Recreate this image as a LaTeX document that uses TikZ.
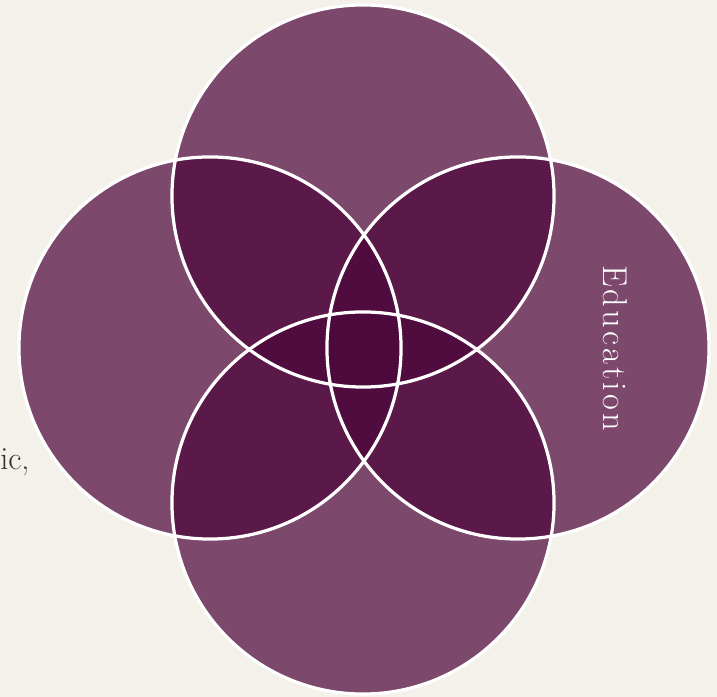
\documentclass[tikz,border=0pt]{standalone}
\usepackage{fontspec}
\usepackage{xcolor}
\usepackage{tikz}

\newfontfamily\edufont{Latin Modern Roman}[LetterSpace=9]
\definecolor{paper}{HTML}{F4F0EA}
\definecolor{plum}{RGB}{78,8,60}
\definecolor{inkgray}{HTML}{333333}

\begin{document}
\begin{tikzpicture}[x=0.025cm, y=0.025cm,
  petal/.style={fill=plum, fill opacity=0.72},
  rim/.style={draw=white, line width=2.3pt}]
% Paper
\fill[paper] (0,0) rectangle (717,697);
\useasboundingbox (0,0) rectangle (717,697);

% Circle centres
\coordinate (top) at (363,501);
\coordinate (left) at (210,349);
\coordinate (right) at (518,349);
\coordinate (bottom) at (363,194);

% Translucent discs, then white rims on top
\foreach \c in {top,left,right,bottom}
  \fill[petal] (\c) circle (4.775cm);
\foreach \c in {top,left,right,bottom}
  \draw[rim] (\c) circle (4.775cm);

% Labels
\node[white, rotate=-90, anchor=base, inner sep=0pt,
  font=\fontsize{24.5}{26}\edufont]
  (edu) at (603,349) {Education};
\node[inkgray, anchor=base west, inner sep=0pt,
  font=\fontsize{23}{25}\selectfont] (cut) at (0,227) {ic,};

\end{tikzpicture}
\end{document}
